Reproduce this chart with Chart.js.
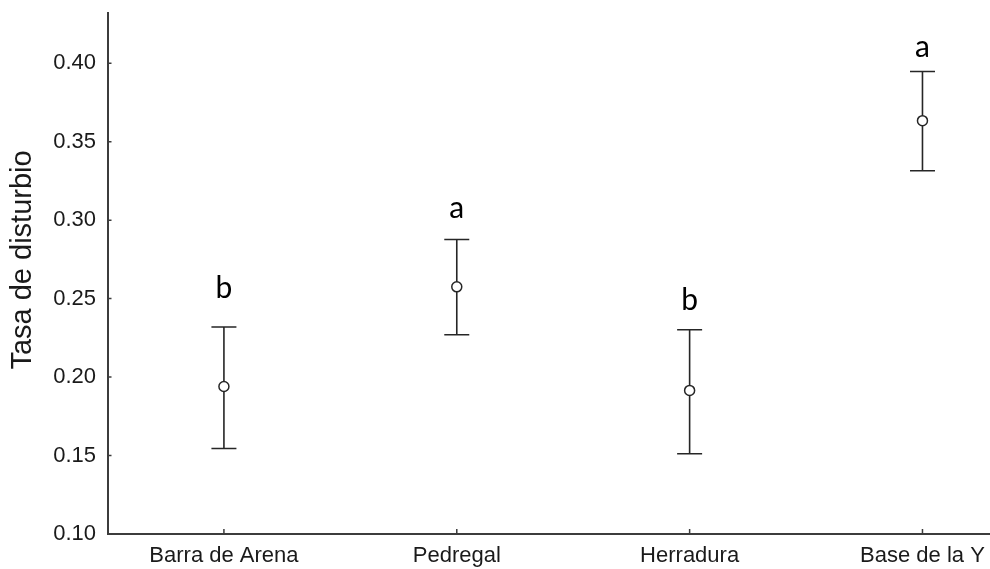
<!DOCTYPE html>
<html lang="es">
<head>
  <meta charset="UTF-8" />
  <title>Tasa de disturbio</title>
  <script src="https://cdn.jsdelivr.net/npm/chart.js"></script>
  <style>
    html, body { margin: 0; padding: 0; background: #fff; }
    canvas { display: block; }
  </style>
</head>
<body>
  <canvas id="chart" width="990" height="569"></canvas>
  <script>
    // data
    const sites = ["Barra de Arena", "Pedregal", "Herradura", "Base de la Y"];
    const means = [0.194, 0.2575, 0.1915, 0.3634];
    const upper = [0.2319, 0.2877, 0.2302, 0.3947];
    const lower = [0.1545, 0.227, 0.1511, 0.3315];
    const groups = ["b", "a", "b", "a"];
    const yTicks = [0.10, 0.15, 0.20, 0.25, 0.30, 0.35, 0.40];
    const yTitle = "Tasa de disturbio";

    // where the group letters sit (data units)
    const letterY = [0.2502, 0.3011, 0.2425, 0.404];

    const axisColor = "#3c3c3c";
    const barColor = "#262626";

    const errorBars = {
      id: "errorBars",
      beforeDatasetsDraw(chart) {
        const ctx = chart.ctx, x = chart.scales.x, y = chart.scales.y;
        ctx.save();
        ctx.strokeStyle = barColor;
        ctx.lineWidth = 1.6;
        sites.forEach((s, i) => {
          const px = x.getPixelForValue(i + 1);
          const top = y.getPixelForValue(upper[i]);
          const bot = y.getPixelForValue(lower[i]);
          ctx.beginPath();
          ctx.moveTo(px, top); ctx.lineTo(px, bot);
          ctx.moveTo(px - 12.5, top); ctx.lineTo(px + 12.5, top);
          ctx.moveTo(px - 12.5, bot); ctx.lineTo(px + 12.5, bot);
          ctx.stroke();
        });
        ctx.restore();
      },
      afterDraw(chart) {
        const ctx = chart.ctx, x = chart.scales.x, y = chart.scales.y;
        const area = chart.chartArea;
        ctx.save();
        // inward tick marks
        ctx.strokeStyle = axisColor;
        ctx.lineWidth = 1.5;
        ctx.beginPath();
        yTicks.forEach(v => {
          const py = y.getPixelForValue(v);
          ctx.moveTo(area.left, py); ctx.lineTo(area.left + 4, py);
        });
        sites.forEach((s, i) => {
          const px = x.getPixelForValue(i + 1);
          ctx.moveTo(px, area.bottom); ctx.lineTo(px, area.bottom - 5);
        });
        ctx.stroke();
        // group letters
        ctx.fillStyle = "#000";
        ctx.font = "30px Lato";
        ctx.textAlign = "center";
        ctx.textBaseline = "alphabetic";
        groups.forEach((g, i) => {
          ctx.fillText(g, x.getPixelForValue(i + 1), y.getPixelForValue(letterY[i]));
        });
        // y axis title
        ctx.translate(23, 260);
        ctx.rotate(-Math.PI / 2);
        ctx.fillStyle = "#1a1a1a";
        ctx.font = "29px 'Liberation Sans', Arial";
        ctx.textBaseline = "middle";
        ctx.fillText(yTitle, 0, 0);
        ctx.restore();
      }
    };

    new Chart(document.getElementById("chart"), {
      type: "scatter",
      data: {
        datasets: [{
          data: means.map((m, i) => ({ x: i + 1, y: m })),
          pointRadius: 5,
          pointHoverRadius: 5,
          pointBackgroundColor: "#fff",
          pointBorderColor: barColor,
          pointBorderWidth: 1.5
        }]
      },
      options: {
        responsive: false,
        animation: false,
        layout: { padding: 0, autoPadding: false },
        plugins: { legend: { display: false }, tooltip: { enabled: false } },
        scales: {
          x: {
            type: "linear",
            min: 0.5,
            max: 4.29,
            afterBuildTicks: s => { s.ticks = sites.map((c, i) => ({ value: i + 1 })); },
            afterFit: s => { s.height = 35; s.paddingLeft = 0; s.paddingRight = 0; },
            grid: { display: false, drawTicks: false },
            border: { display: true, color: axisColor, width: 2 },
            ticks: {
              padding: 9,
              color: "#1a1a1a",
              font: { family: "Liberation Sans, Arial", size: 22 },
              maxRotation: 0,
              callback: v => sites[v - 1]
            }
          },
          y: {
            min: 0.1,
            max: 0.432,
            afterBuildTicks: s => { s.ticks = yTicks.map(v => ({ value: v })); },
            afterFit: s => { s.width = 107.5; s.paddingTop = 13; s.paddingBottom = 0; },
            grid: { display: false, drawTicks: false },
            border: { display: true, color: axisColor, width: 2 },
            ticks: {
              padding: 11.5,
              color: "#1a1a1a",
              font: { family: "Liberation Sans, Arial", size: 22 },
              callback: v => v.toFixed(2)
            }
          }
        }
      },
      plugins: [errorBars]
    });
  </script>
</body>
</html>
